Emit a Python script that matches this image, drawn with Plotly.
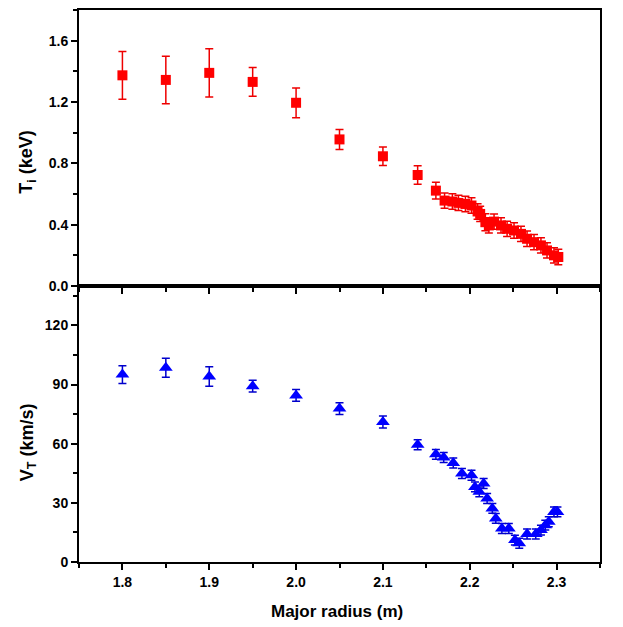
import plotly.graph_objects as go
from plotly.subplots import make_subplots

# ---- data: ion temperature (top panel) ----
ti_r = [1.80, 1.85, 1.90, 1.95, 2.00, 2.05, 2.10, 2.14, 2.161, 2.171, 2.180, 2.187,
        2.195, 2.202, 2.209, 2.212, 2.218, 2.222, 2.228, 2.236, 2.243, 2.251, 2.259,
        2.266, 2.274, 2.282, 2.289, 2.297, 2.302]
ti_val = [1.374, 1.344, 1.39, 1.331, 1.195, 0.956, 0.846, 0.724, 0.622, 0.557, 0.551,
          0.542, 0.535, 0.525, 0.486, 0.47, 0.416, 0.395, 0.42, 0.395, 0.373, 0.362,
          0.34, 0.308, 0.286, 0.265, 0.232, 0.2, 0.189]
ti_err = [0.156, 0.155, 0.158, 0.094, 0.097, 0.065, 0.06, 0.06, 0.055, 0.05, 0.05,
          0.05, 0.05, 0.05, 0.05, 0.05, 0.055, 0.05, 0.05, 0.05, 0.05, 0.05,
          0.05, 0.05, 0.05, 0.05, 0.05, 0.05, 0.05]

# ---- data: toroidal velocity (bottom panel) ----
vt_r = [1.80, 1.85, 1.90, 1.95, 2.00, 2.05, 2.10, 2.14, 2.161, 2.170, 2.181, 2.191,
        2.202, 2.206, 2.211, 2.216, 2.220, 2.226, 2.230, 2.237, 2.245, 2.252, 2.257,
        2.266, 2.276, 2.282, 2.287, 2.291, 2.297, 2.301]
vt_val = [95.1, 98.5, 94.1, 89.2, 84.5, 77.8, 71.0, 59.5, 54.6, 53.0, 50.2, 44.9,
          44.0, 38.1, 35.6, 39.8, 32.2, 27.2, 22.1, 17.0, 17.0, 11.1, 9.5,
          14.2, 14.2, 16.2, 18.7, 20.4, 25.4, 25.4]
vt_err = [4.5, 4.8, 5.0, 3.0, 3.0, 3.0, 3.0, 2.5, 2.5, 2.5, 2.5, 2.5,
          2.5, 2.5, 2.5, 2.5, 2.5, 2.5, 2.5, 2.5, 2.5, 2.5, 2.5,
          2.5, 2.5, 2.5, 2.5, 2.5, 2.5, 2.5]

x_ticks = [1.8, 1.9, 2.0, 2.1, 2.2, 2.3]
ti_ticks = [0.0, 0.4, 0.8, 1.2, 1.6]
vt_ticks = [0, 30, 60, 90, 120]

FONT = "Liberation Sans, Arial, sans-serif"

fig = make_subplots(rows=2, cols=1, shared_xaxes=True, vertical_spacing=0)

fig.add_trace(go.Scatter(
    x=ti_r, y=ti_val, mode="markers",
    marker=dict(symbol="square", size=10, color="#FF0000"),
    error_y=dict(type="data", array=ti_err, color="#EE0000", thickness=1.5, width=4),
    showlegend=False), row=1, col=1)

fig.add_trace(go.Scatter(
    x=vt_r, y=vt_val, mode="markers",
    marker=dict(symbol="triangle-up", size=12, color="#0000FF"),
    error_y=dict(type="data", array=vt_err, color="#0000CC", thickness=1.5, width=4),
    showlegend=False), row=2, col=1)

tickfont = dict(family=FONT, size=14, color="black", weight="bold")
axis_common = dict(showline=True, linecolor="black", linewidth=2, mirror=True,
                   ticks="outside", ticklen=6, tickwidth=2, tickcolor="black",
                   showgrid=False, zeroline=False, tickfont=tickfont)

fig.update_xaxes(range=[1.75, 2.35], tickvals=x_ticks,
                 minor=dict(ticks="outside", ticklen=4, tickwidth=1.5,
                            tickcolor="black", dtick=0.05, tick0=1.75),
                 **axis_common)
fig.update_xaxes(showticklabels=False, row=1, col=1)
fig.update_xaxes(showticklabels=True, tickformat=".1f", row=2, col=1)

fig.update_yaxes(range=[0, 1.8], tickvals=ti_ticks, tickformat=".1f",
                 minor=dict(ticks="outside", ticklen=4, tickwidth=1.5,
                            tickcolor="black", dtick=0.2, tick0=0),
                 row=1, col=1, **axis_common)
fig.update_yaxes(range=[0, 140], tickvals=vt_ticks,
                 minor=dict(ticks="outside", ticklen=4, tickwidth=1.5,
                            tickcolor="black", dtick=15, tick0=0),
                 row=2, col=1, **axis_common)

fig.update_layout(
    yaxis=dict(domain=[0.5, 1.0]),
    yaxis2=dict(domain=[0.0, 0.5]),
    width=623, height=627,
    margin=dict(l=79, r=23, t=8, b=65),
    paper_bgcolor="white", plot_bgcolor="white",
    font=dict(family=FONT, color="black"),
    annotations=[
        dict(text="Major radius (m)", xref="paper", yref="paper", x=0.495, y=-0.09,
             xanchor="center", yanchor="middle", showarrow=False,
             font=dict(family=FONT, size=17, color="black", weight="bold")),
        dict(text="T<sub>i</sub> (keV)", xref="paper", yref="paper", x=-0.098, y=0.725,
             xanchor="center", yanchor="middle", showarrow=False, textangle=-90,
             font=dict(family=FONT, size=18, color="black", weight="bold")),
        dict(text="V<sub>T</sub> (km/s)", xref="paper", yref="paper", x=-0.098, y=0.217,
             xanchor="center", yanchor="middle", showarrow=False, textangle=-90,
             font=dict(family=FONT, size=18, color="black", weight="bold")),
    ],
)

fig.write_html("out.html", config={"displayModeBar": False},
               post_script="document.body.style.margin='0';")
